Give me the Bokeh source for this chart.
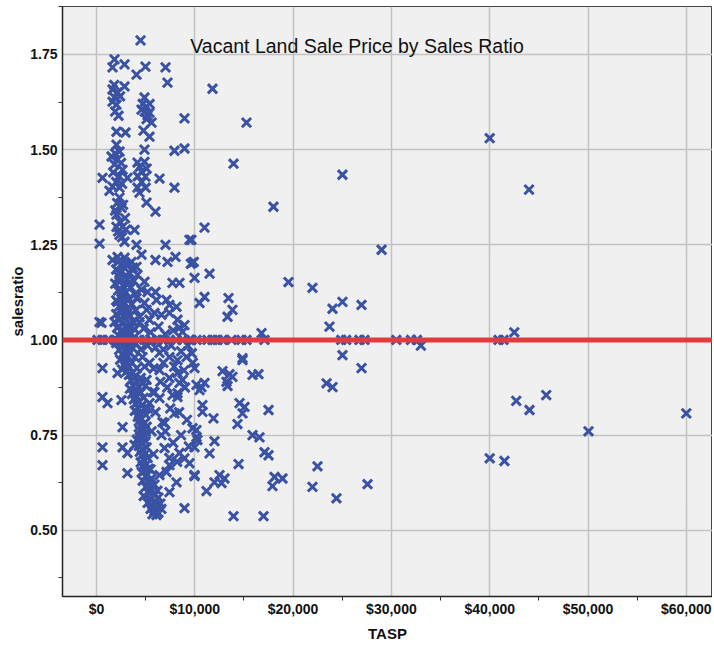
from bokeh.plotting import figure
from bokeh.models import (ColumnDataSource, Span, Label, FixedTicker,
                          NumeralTickFormatter, Range1d)
from bokeh.embed import file_html
from bokeh.resources import INLINE

title_text = "Vacant Land Sale Price by Sales Ratio"
x_label = "TASP"
y_label = "salesratio"
reference_ratio = 1.0

x_major_ticks = [0, 10000, 20000, 30000, 40000, 50000, 60000]
x_minor_ticks = [5000, 15000, 25000, 35000, 45000, 55000]
y_major_ticks = [0.50, 0.75, 1.00, 1.25, 1.50, 1.75]
y_minor_ticks = [0.375, 0.625, 0.875, 1.125, 1.375, 1.625, 1.875]

# far-right points (TASP, salesratio)
far_pts = [(40000, 1.53), (44000, 1.395), (40900, 1.0), (41400, 1.0), (42500, 1.02),
           (32000, 1.0), (32600, 1.0), (33000, 0.985), (30500, 1.0), (42700, 0.84),
           (44050, 0.816), (45750, 0.855), (50050, 0.76), (60000, 0.807),
           (40000, 0.689), (41500, 0.682)]

mid_pts = [(11800, 1.66), (15260, 1.571), (13940, 1.463), (25020, 1.434), (18000, 1.35),
           (10990, 1.295), (9660, 1.263), (29000, 1.237), (9770, 1.203), (9970, 1.163),
           (11500, 1.174), (19530, 1.152), (21970, 1.137), (10990, 1.113), (10480, 1.097),
           (13430, 1.11), (13830, 1.079), (13330, 1.061), (24010, 1.082), (25020, 1.10),
           (26960, 1.092), (23700, 1.035),
           (9660, 1.0), (10170, 1.0), (11290, 1.0), (11800, 1.0), (12310, 1.0), (12820, 1.0),
           (13730, 1.0), (14750, 1.0), (15260, 1.0), (16790, 1.018), (17090, 1.0),
           (24900, 1.0), (25400, 1.0), (26750, 1.0), (27260, 1.0),
           (25020, 0.96), (26960, 0.926), (14850, 0.952), (9970, 0.926), (12820, 0.918),
           (13530, 0.91), (13220, 0.89), (13330, 0.879), (13830, 0.903), (16480, 0.91),
           (10170, 0.882), (10680, 0.876), (10990, 0.887), (23400, 0.886), (24010, 0.876),
           (10780, 0.829), (10780, 0.811), (11900, 0.794), (14550, 0.834), (15060, 0.824),
           (14850, 0.807), (14340, 0.779), (17500, 0.816), (9770, 0.768), (10170, 0.745),
           (9970, 0.718), (12000, 0.734), (11500, 0.702), (15870, 0.75), (16580, 0.744),
           (17090, 0.705), (17500, 0.697), (14450, 0.674), (9970, 0.642), (11190, 0.603),
           (12510, 0.645), (13020, 0.636), (12720, 0.624), (12000, 0.626), (18110, 0.64),
           (18920, 0.636), (17900, 0.616), (22480, 0.668), (21970, 0.614), (24410, 0.584),
           (27570, 0.621), (13940, 0.537), (16990, 0.537), (9700, 0.965), (9800, 0.94),
           (9600, 1.2), (9900, 1.205)]

upper_pts = [(4480, 1.787), (1830, 1.737), (1630, 1.716), (2850, 1.724), (4980, 1.718),
             (4070, 1.697), (7020, 1.716), (7220, 1.676), (1630, 1.658), (2140, 1.65),
             (2850, 1.666), (1630, 1.626), (2030, 1.618), (1830, 1.637), (4880, 1.637),
             (4580, 1.605), (5090, 1.613), (5390, 1.597), (5090, 1.58), (5600, 1.571),
             (2240, 1.589), (8950, 1.582), (2030, 1.547), (2950, 1.545), (4780, 1.55),
             (5390, 1.534), (2030, 1.513), (2340, 1.495), (4880, 1.50), (7930, 1.497),
             (8950, 1.503), (1530, 1.482), (2140, 1.474), (1830, 1.461), (4170, 1.466),
             (4880, 1.468), (4580, 1.442), (4980, 1.429), (610, 1.426), (2650, 1.447),
             (3150, 1.426), (6410, 1.424), (7930, 1.40), (1630, 1.403), (2340, 1.40),
             (1320, 1.392), (4170, 1.40), (4370, 1.387),
             (1900, 1.49), (2500, 1.465), (1700, 1.44), (2300, 1.43), (2000, 1.415),
             (2600, 1.41), (4400, 1.455), (5100, 1.45), (4600, 1.415), (5000, 1.40),
             (4200, 1.43), (4700, 1.62), (5200, 1.59), (4900, 1.60), (5400, 1.62),
             (1800, 1.67), (2400, 1.64), (1900, 1.60)]

band_pts = [(2340, 1.374), (2540, 1.347), (2030, 1.329), (5090, 1.361), (6000, 1.337),
            (310, 1.303), (310, 1.253), (2030, 1.297), (2650, 1.297), (3870, 1.289),
            (2340, 1.276), (2850, 1.258), (4070, 1.25), (7020, 1.25), (9460, 1.263),
            (1630, 1.21), (2140, 1.218), (2850, 1.216), (2540, 1.197), (3560, 1.205),
            (4580, 1.224), (6000, 1.21), (7220, 1.205), (8040, 1.218), (4070, 1.192),
            (2340, 1.176), (2850, 1.166), (2340, 1.153), (3150, 1.145), (2540, 1.126),
            (4170, 1.171), (4880, 1.153), (4580, 1.132), (7730, 1.15), (8440, 1.15),
            (6000, 1.126), (4070, 1.11), (2140, 1.10), (2850, 1.11), (2650, 1.084),
            (3150, 1.071), (4880, 1.097), (5090, 1.079), (7120, 1.105), (7420, 1.092),
            (5900, 1.071), (6610, 1.066), (7420, 1.071), (310, 1.047), (1830, 1.047),
            (4370, 1.047), (5390, 1.053), (8240, 1.053), (8950, 1.039), (8440, 1.032),
            (3560, 1.034),
            (100, 1.0), (610, 1.0), (1120, 1.0), (2030, 1.0), (2650, 1.0), (3150, 1.0),
            (3660, 1.0), (4370, 1.0), (4880, 1.0), (5600, 1.0), (6200, 1.0), (6710, 1.0),
            (7420, 1.0), (8140, 1.0), (8750, 1.0), (9460, 1.0),
            (2100, 1.36), (2700, 1.355), (1900, 1.34), (2400, 1.31), (2900, 1.32),
            (2200, 1.285), (2600, 1.27), (3000, 1.29)]

low_pts = [(610, 0.926), (8240, 0.913), (7420, 0.90), (8750, 0.895), (610, 0.85),
           (1120, 0.834), (2540, 0.842), (5700, 0.863), (6410, 0.847), (5390, 0.834),
           (7730, 0.855), (8240, 0.85), (7930, 0.807), (6920, 0.782), (2650, 0.771),
           (6610, 0.75), (6920, 0.716), (610, 0.718), (610, 0.671), (2650, 0.718),
           (3150, 0.703), (3870, 0.724), (3150, 0.65), (8440, 0.703), (8950, 0.689),
           (9460, 0.676), (9970, 0.645), (7420, 0.671), (7120, 0.653), (6410, 0.645),
           (8140, 0.626), (7420, 0.60), (8950, 0.558), (6710, 0.784), (10170, 0.763),
           (10270, 0.737), (8240, 0.86),
           (5190, 1.126), (6100, 1.105), (8140, 1.087), (4370, 1.06), (510, 1.045),
           (8750, 1.021), (2140, 0.913), (4680, 0.955), (5390, 0.94), (6410, 0.966),
           (7420, 0.955), (8240, 0.947), (9150, 0.955), (6410, 0.921), (8440, 0.887),
           (10480, 0.868), (14850, 0.947), (15870, 0.908), (5090, 0.895), (5900, 0.863),
           (4370, 0.86)]

column_pts = [(2200, 1.205), (3000, 1.198), (3700, 1.19), (2000, 1.185), (2600, 1.18),
              (3400, 1.175), (2300, 1.165), (3100, 1.16), (3800, 1.155), (1900, 1.148),
              (2700, 1.142), (3500, 1.138), (2200, 1.13), (3000, 1.125), (3900, 1.12),
              (2500, 1.115), (3300, 1.108), (2000, 1.104), (2800, 1.098), (3600, 1.094),
              (2300, 1.088), (3100, 1.082), (4000, 1.078), (2600, 1.074), (2000, 1.068),
              (3400, 1.064), (2900, 1.058), (2300, 1.052), (3700, 1.048), (2700, 1.042),
              (3200, 1.036), (2100, 1.032), (3900, 1.028), (2500, 1.024), (3000, 1.02),
              (3500, 1.016), (2200, 1.012), (2800, 1.008), (3300, 1.004), (3800, 1.006),
              (2500, 0.998), (3000, 0.996), (3500, 0.994), (2000, 0.992), (4000, 0.99),
              (2700, 0.986), (3200, 0.982), (3700, 0.978), (2300, 0.974), (2900, 0.97),
              (3400, 0.966), (2600, 0.962), (3100, 0.958), (3900, 0.954), (2400, 0.948),
              (3000, 0.944), (3600, 0.94), (2800, 0.934), (3300, 0.93), (4100, 0.926),
              (2600, 0.922), (3100, 0.918), (3700, 0.914),
              (3300, 0.908), (3900, 0.904), (4500, 0.90), (3500, 0.894), (4100, 0.89),
              (4700, 0.886), (3700, 0.88), (4300, 0.876), (3400, 0.872), (3900, 0.866),
              (4500, 0.862), (3600, 0.858), (4100, 0.852), (4800, 0.848), (3800, 0.844),
              (4300, 0.838), (4000, 0.832), (4600, 0.828), (4200, 0.822), (4900, 0.818),
              (3900, 0.814), (4400, 0.808), (5000, 0.804), (4200, 0.798), (4600, 0.792),
              (4300, 0.786), (4900, 0.782), (4500, 0.776), (5100, 0.772), (4700, 0.766),
              (4400, 0.762), (5000, 0.758),
              (4300, 0.752), (4900, 0.748), (4500, 0.742), (4100, 0.738), (5000, 0.734),
              (4600, 0.728), (4300, 0.722), (5100, 0.718), (4700, 0.712), (4400, 0.706),
              (5000, 0.702), (4600, 0.696), (5200, 0.69), (4800, 0.684), (4500, 0.678),
              (5100, 0.674), (4700, 0.668), (5300, 0.662), (4900, 0.656), (4600, 0.652),
              (5000, 0.642), (5600, 0.636), (4700, 0.63), (5300, 0.626), (5900, 0.62),
              (5000, 0.614), (5600, 0.608), (6200, 0.604), (5300, 0.598), (5900, 0.592),
              (4800, 0.59), (6300, 0.586), (5500, 0.582), (6000, 0.576), (5200, 0.572),
              (6500, 0.57), (5700, 0.566), (6200, 0.56), (5500, 0.556), (6600, 0.556),
              (5900, 0.55), (6300, 0.546), (5700, 0.542), (6100, 0.54)]

extra_pts = [(4800, 1.03), (5500, 1.02), (6300, 1.035), (7000, 1.015), (7800, 1.025),
             (4500, 0.975), (5200, 0.985), (6000, 0.98), (6800, 0.975), (7600, 0.985),
             (8600, 0.97), (9300, 0.985), (4900, 0.93), (5800, 0.925), (6800, 0.94),
             (7900, 0.93), (8900, 0.92), (5000, 0.88), (6500, 0.89), (7200, 0.875),
             (9000, 0.875), (5200, 0.82), (6000, 0.81), (7500, 0.82), (8400, 0.81),
             (9200, 0.79), (5600, 0.76), (7000, 0.76), (7800, 0.73), (8600, 0.75),
             (9400, 0.72), (5800, 0.70), (7400, 0.69), (8200, 0.68), (5500, 0.66)]

all_pts = far_pts + mid_pts + upper_pts + band_pts + low_pts + column_pts + extra_pts
tasp = [p[0] for p in all_pts]
salesratio = [p[1] for p in all_pts]

src = ColumnDataSource(data=dict(tasp=tasp, salesratio=salesratio))

p = figure(width=712, height=644, output_backend="svg", toolbar_location=None,
           x_range=Range1d(-3459, 62665), y_range=Range1d(0.326, 1.876),
           min_border_top=6, min_border_right=0, min_border_left=62, min_border_bottom=0)

p.background_fill_color = "#f0f0f0"
p.border_fill_color = "white"
p.outline_line_color = "#444444"
p.outline_line_width = 1

p.xgrid.grid_line_color = "#c2c2c2"
p.ygrid.grid_line_color = "#c2c2c2"
p.xgrid.grid_line_width = 1.5
p.ygrid.grid_line_width = 1.5

p.xaxis.ticker = FixedTicker(ticks=x_major_ticks, minor_ticks=x_minor_ticks)
p.yaxis.ticker = FixedTicker(ticks=y_major_ticks, minor_ticks=y_minor_ticks)
p.xaxis.formatter = NumeralTickFormatter(format="$0,0")
p.yaxis.formatter = NumeralTickFormatter(format="0.00")

for ax in (p.xaxis, p.yaxis):
    ax.axis_line_color = "#222222"
    ax.axis_line_width = 1.5
    ax.major_tick_out = 0
    ax.major_tick_in = 0
    ax.minor_tick_out = 4
    ax.minor_tick_in = 0
    ax.minor_tick_line_color = "#333333"
    ax.minor_tick_line_width = 1
    ax.major_label_text_font = "Liberation Sans"
    ax.major_label_text_font_style = "bold"
    ax.major_label_text_font_size = "14px"
    ax.major_label_text_color = "#111111"
    ax.axis_label_text_font = "Liberation Sans"
    ax.axis_label_text_font_style = "bold"
    ax.axis_label_text_font_size = "15px"
    ax.axis_label_text_color = "#111111"

p.xaxis.axis_label = x_label
p.yaxis.axis_label = y_label
p.xaxis.major_label_standoff = 0
p.yaxis.major_label_standoff = 1
p.xaxis.axis_label_standoff = 5
p.yaxis.axis_label_standoff = 1

p.scatter(x="tasp", y="salesratio", source=src, marker="x", size=13,
          line_color="#3a52a4", line_width=3)

p.add_layout(Span(location=reference_ratio, dimension="width",
                  line_color="#e23b3e", line_width=5))

p.add_layout(Label(x=26500, y=1.771, text=title_text, text_align="center",
                   text_baseline="middle", text_font="Liberation Sans",
                   text_font_size="19.5px", text_color="#111111"))

open("out.html", "w").write(file_html(p, INLINE))
